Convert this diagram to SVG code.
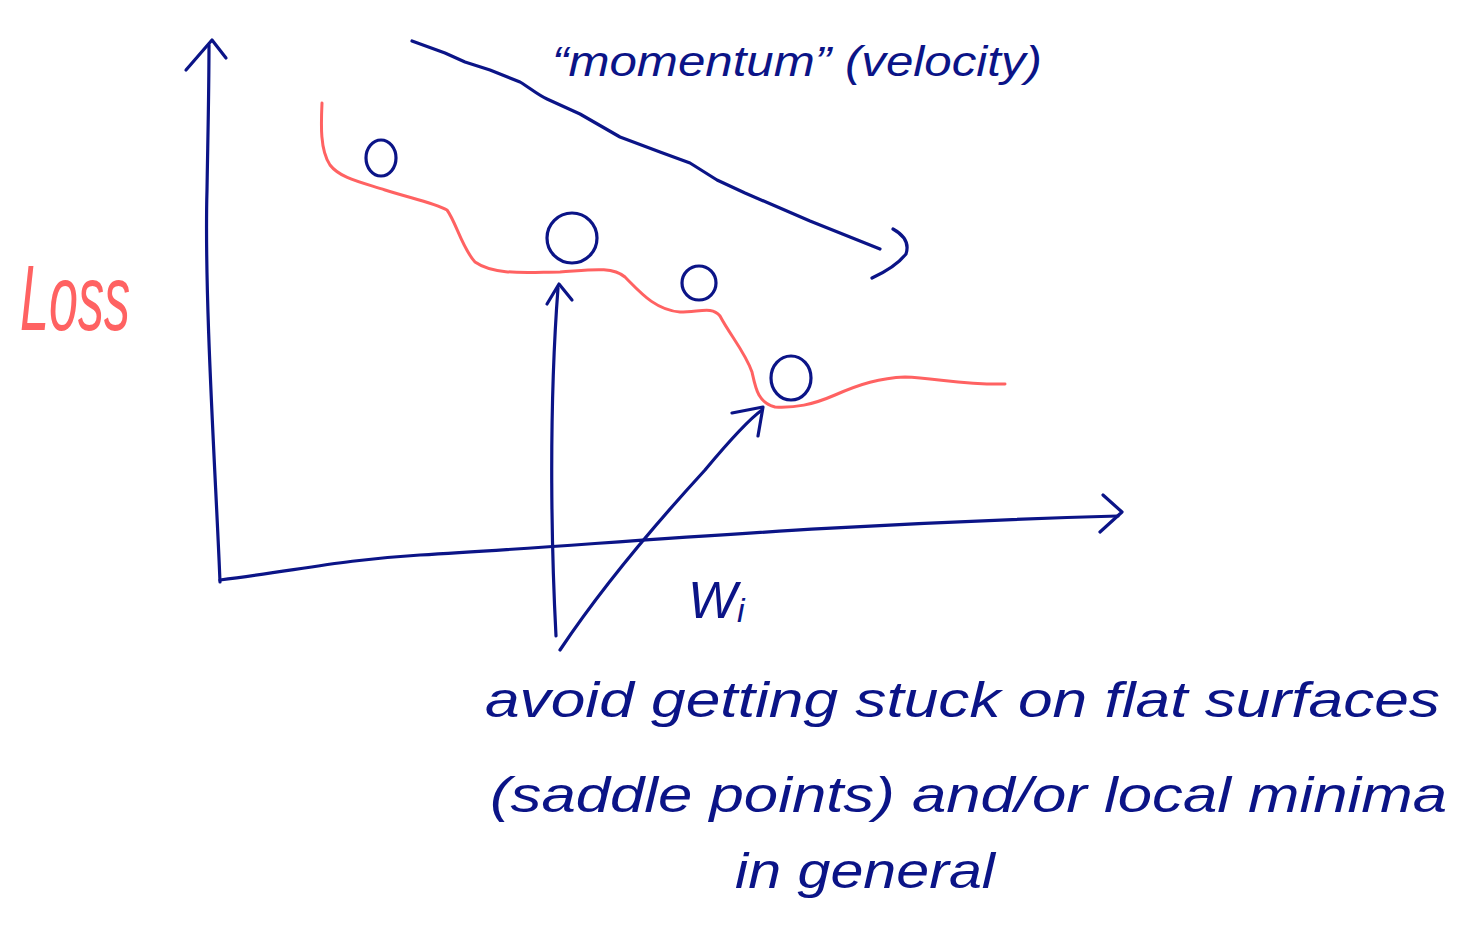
<svg xmlns="http://www.w3.org/2000/svg" width="1457" height="929" viewBox="0 0 1457 929">
<style>
.ink{fill:none;stroke:#0b1487;stroke-width:3.2;stroke-linecap:round;stroke-linejoin:round}
.red{fill:none;stroke:#ff6262;stroke-width:3;stroke-linecap:round;stroke-linejoin:round}
.t{font-family:"Liberation Sans","DejaVu Sans",sans-serif;fill:#0b1487;font-style:italic}
.tr{font-family:"Liberation Sans","DejaVu Sans",sans-serif;fill:#ff6262;font-style:italic}
</style>
<rect width="1457" height="929" fill="#ffffff"/>
<g id="axes">
<path class="ink" d="M220,582 C216,480 204,300 207,190 C208,130 209,90 209,45"/>
<path class="ink" d="M186,70 L212,40 L226,58"/>
<path class="ink" d="M220,580 C300,570 340,560 420,555 C600,545 800,525 1118,516"/>
<path class="ink" d="M1103,495 L1122,512 L1100,532"/>
</g>
<g id="loss-curve">
<path class="red" d="M322,103 C321,125 320,150 330,165 C340,178 360,182 385,190 C410,198 435,203 447,210 C456,222 462,248 475,262 C495,276 530,272 560,272 C590,270 612,266 625,277 C640,292 655,310 680,312 C700,312 712,306 720,316 C730,335 745,352 752,372 C756,390 758,402 775,407 C795,408 812,405 835,395 C860,384 880,378 905,377 C935,378 965,385 1005,384"/>
</g>
<g id="balls">
<ellipse class="ink" cx="381" cy="158" rx="15" ry="18"/>
<ellipse class="ink" cx="572" cy="238" rx="25" ry="25"/>
<ellipse class="ink" cx="699" cy="283" rx="17" ry="17"/>
<ellipse class="ink" cx="791" cy="378" rx="20" ry="22"/>
</g>
<g id="momentum-arrow">
<path class="ink" d="M412,41 L445,53 L465,62 L490,70 L520,82 C530,88 538,95 547,99 L580,114 L620,137 L660,152 L690,163 L717,180 L745,193 L773,205 L810,221 L850,237 L880,249"/>
<path class="ink" d="M893,229 C902,234 910,242 906,254 C898,264 885,272 872,278"/>
</g>
<g id="connectors">
<path class="ink" d="M556,636 C552,560 548,420 558,288"/>
<path class="ink" d="M547,304 L559,284 L572,300"/>
<path class="ink" d="M560,650 C600,590 650,530 705,470 C730,440 748,420 762,410"/>
<path class="ink" d="M732,413 L763,407 L758,436"/>
</g>
<g id="labels">
<text class="tr" x="20" y="330" font-size="92" textLength="110" lengthAdjust="spacingAndGlyphs">Loss</text>
<text class="t" x="688" y="618" font-size="52">W<tspan font-size="34" dy="4">i</tspan></text>
<text class="t" x="552" y="76" font-size="42" textLength="490" lengthAdjust="spacingAndGlyphs">“momentum” (velocity)</text>
<text class="t" x="485" y="717" font-size="50" textLength="955" lengthAdjust="spacingAndGlyphs">avoid getting stuck on flat surfaces</text>
<text class="t" x="490" y="812" font-size="50" textLength="957" lengthAdjust="spacingAndGlyphs">(saddle points) and/or local minima</text>
<text class="t" x="735" y="888" font-size="50" textLength="260" lengthAdjust="spacingAndGlyphs">in general</text>
</g>
</svg>
